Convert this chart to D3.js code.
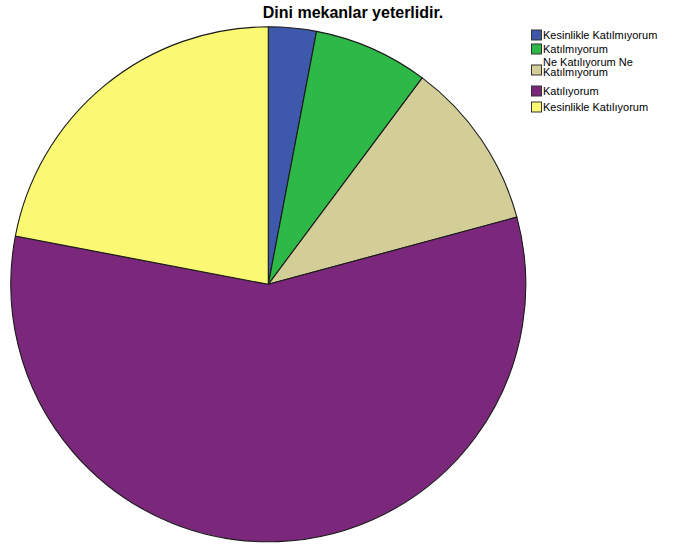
<!DOCTYPE html>
<html>
<head>
<meta charset="utf-8">
<script src="https://cdn.jsdelivr.net/npm/d3@7"></script>
<style>
  body { margin: 0; background: #fff; }
  text { font-family: "Liberation Sans", Arial, sans-serif; }
</style>
</head>
<body>
<svg id="chart" width="688" height="546"></svg>
<script>
var width = 688;
var height = 546;

var title = "Dini mekanlar yeterlidir.";

// answer categories, in drawing order (clockwise from 12 o'clock)
var categories = [
  "Kesinlikle Katılmıyorum",
  "Katılmıyorum",
  "Ne Katılıyorum Ne Katılmıyorum",
  "Katılıyorum",
  "Kesinlikle Katılıyorum"
];
// legend lines (third label wraps)
var legendLines = [
  ["Kesinlikle Katılmıyorum"],
  ["Katılmıyorum"],
  ["Ne Katılıyorum Ne", "Katılmıyorum"],
  ["Katılıyorum"],
  ["Kesinlikle Katılıyorum"]
];
// percent share
var percents = [3.0, 7.2, 10.6, 57.2, 22.0];
var colors = ["#3e58ac", "#2eb848", "#d3ce97", "#7b287c", "#fbf873"];

var svg = d3.select("#chart");

var cx = 268.3, cy = 284.3, radius = 257.5;

var color = d3.scaleOrdinal()
  .domain(categories)
  .range(colors);

var pie = d3.pie()
  .sort(null)
  .value(function(d, i) { return percents[i]; });

var arc = d3.arc()
  .innerRadius(0)
  .outerRadius(radius);

var g = svg.append("g")
  .attr("transform", "translate(" + cx + "," + cy + ")");

g.selectAll("path")
  .data(pie(categories))
  .enter().append("path")
  .attr("d", arc)
  .attr("fill", function(d) { return color(d.data); })
  .attr("stroke", "#1a1a1a")
  .attr("stroke-width", 1.1)
  .attr("stroke-linejoin", "round");

// title
svg.append("text")
  .attr("x", 353)
  .attr("y", 18)
  .attr("text-anchor", "middle")
  .attr("font-size", "16px")
  .attr("font-weight", "bold")
  .attr("fill", "#000")
  .text(title);

// legend
var rowY = [35, 49, 70, 91, 107];
var legend = svg.append("g").attr("class", "legend");

legendLines.forEach(function(lines, i) {
  legend.append("rect")
    .attr("x", 531.5)
    .attr("y", rowY[i] - 5)
    .attr("width", 10)
    .attr("height", 10)
    .attr("fill", color(categories[i]))
    .attr("stroke", "#333")
    .attr("stroke-width", 1);

  var t = legend.append("text")
    .attr("x", 543)
    .attr("font-size", "11px")
    .attr("fill", "#000");
  var y0 = lines.length > 1 ? rowY[i] - 7.8 : rowY[i];
  lines.forEach(function(l, j) {
    t.append("tspan")
      .attr("x", 543)
      .attr("y", y0 + j * 9.4 + 4)
      .text(l);
  });
});
</script>
</body>
</html>
